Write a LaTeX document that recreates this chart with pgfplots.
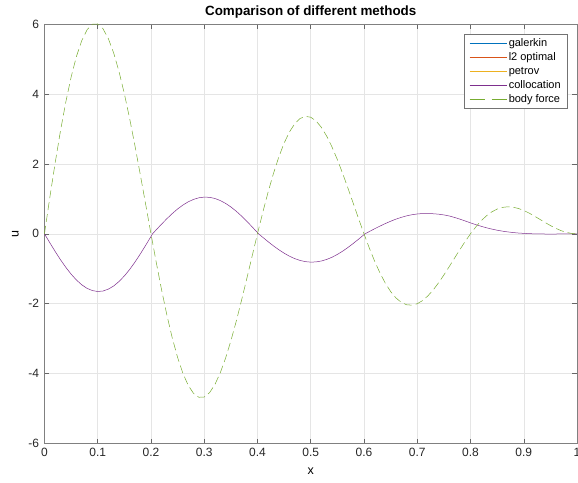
\documentclass[border=0pt]{standalone}
\usepackage{fontspec}
\setmainfont{Liberation Sans}
\usepackage{pgfplots}
\pgfplotsset{compat=1.18}
\definecolor{mblue}{rgb}{0,0.447,0.741}
\definecolor{morange}{rgb}{0.850,0.325,0.098}
\definecolor{myellow}{rgb}{0.929,0.694,0.125}
\definecolor{mpurple}{rgb}{0.494,0.184,0.556}
\definecolor{mgreen}{rgb}{0.466,0.674,0.188}
\begin{document}
\begin{tikzpicture}
\pgfplotstableread{
x u
0.00 0
0.01 -0.254
0.02 -0.503
0.03 -0.739
0.04 -0.957
0.05 -1.153
0.06 -1.321
0.07 -1.458
0.08 -1.560
0.09 -1.624
0.10 -1.650
0.11 -1.636
0.12 -1.582
0.13 -1.492
0.14 -1.364
0.15 -1.206
0.16 -1.020
0.17 -0.808
0.18 -0.576
0.19 -0.330
0.20 -0.077
0.203 0
0.21 0.116
0.22 0.278
0.23 0.434
0.24 0.579
0.25 0.710
0.26 0.822
0.27 0.915
0.28 0.984
0.29 1.030
0.30 1.049
0.31 1.043
0.32 1.010
0.33 0.952
0.34 0.870
0.35 0.768
0.36 0.647
0.37 0.509
0.38 0.358
0.39 0.198
0.40 0.033
0.402 0
0.41 -0.101
0.42 -0.226
0.43 -0.345
0.44 -0.455
0.45 -0.554
0.46 -0.640
0.47 -0.710
0.48 -0.762
0.49 -0.796
0.50 -0.810
0.51 -0.804
0.52 -0.778
0.53 -0.733
0.54 -0.670
0.55 -0.590
0.56 -0.496
0.57 -0.390
0.58 -0.274
0.59 -0.152
0.60 -0.025
0.602 0
0.61 0.064
0.62 0.144
0.63 0.220
0.64 0.292
0.65 0.359
0.66 0.419
0.67 0.470
0.68 0.513
0.69 0.545
0.70 0.567
0.71 0.579
0.715 0.580
0.72 0.579
0.73 0.573
0.74 0.561
0.75 0.540
0.76 0.510
0.77 0.468
0.78 0.420
0.79 0.367
0.80 0.312
0.81 0.262
0.82 0.215
0.83 0.172
0.84 0.135
0.85 0.103
0.86 0.076
0.87 0.054
0.88 0.036
0.89 0.022
0.90 0.012
0.91 0.004
0.92 -0.001
0.93 -0.004
0.94 -0.006
0.95 -0.007
0.96 -0.006
0.97 -0.005
0.98 -0.003
0.99 -0.001
1.00 0
}\usol
\pgfplotstableread{
x f
0.00 0
0.01 1.032
0.02 2.019
0.03 2.936
0.04 3.762
0.05 4.478
0.06 5.070
0.07 5.524
0.08 5.833
0.09 5.992
0.10 6.000
0.11 5.860
0.12 5.580
0.13 5.168
0.14 4.638
0.15 4.007
0.16 3.292
0.17 2.512
0.18 1.689
0.19 0.845
0.20 0
0.21 -0.824
0.22 -1.607
0.23 -2.331
0.24 -2.978
0.25 -3.536
0.26 -3.991
0.27 -4.336
0.28 -4.565
0.29 -4.675
0.30 -4.667
0.31 -4.543
0.32 -4.312
0.33 -3.980
0.34 -3.560
0.35 -3.064
0.36 -2.508
0.37 -1.907
0.38 -1.277
0.39 -0.636
0.40 0
0.41 0.615
0.42 1.195
0.43 1.725
0.44 2.194
0.45 2.593
0.46 2.912
0.47 3.148
0.48 3.297
0.49 3.358
0.50 3.333
0.51 3.227
0.52 3.044
0.53 2.792
0.54 2.481
0.55 2.121
0.56 1.724
0.57 1.301
0.58 0.865
0.59 0.427
0.60 0
0.61 -0.407
0.62 -0.783
0.63 -1.120
0.64 -1.411
0.65 -1.650
0.66 -1.834
0.67 -1.960
0.68 -2.029
0.69 -2.041
0.70 -2.000
0.71 -1.910
0.72 -1.775
0.73 -1.604
0.74 -1.402
0.75 -1.179
0.76 -0.940
0.77 -0.696
0.78 -0.453
0.79 -0.219
0.80 0
0.81 0.198
0.82 0.371
0.83 0.515
0.84 0.627
0.85 0.707
0.86 0.755
0.87 0.772
0.88 0.761
0.89 0.724
0.90 0.667
0.91 0.593
0.92 0.507
0.93 0.416
0.94 0.324
0.95 0.236
0.96 0.157
0.97 0.091
0.98 0.041
0.99 0.010
1.00 0
}\fbody
\begin{axis}[
  scale only axis, width=533pt, height=420pt,
  xmin=0, xmax=1, ymin=-6, ymax=6,
  xtick={0,0.1,0.2,0.3,0.4,0.5,0.6,0.7,0.8,0.9,1},
  ytick={-6,-4,-2,0,2,4,6},
  /pgf/number format/assume math mode=true,
  ticklabel style={font=\fontsize{12}{14}\selectfont, text=black!85},
  xticklabel style={yshift=-1pt},
  yticklabel style={xshift=-2pt},
  grid=major,
  grid style={color=black!10, line width=0.5pt},
  axis line style={color=black!50, line width=0.6pt},
  tick style={color=black!60, line width=0.5pt},
  tick align=inside, major tick length=5pt,
  title={\textbf{Comparison of different methods}},
  every axis title/.style={at={(axis description cs:0.5,1.029)}, anchor=center,
    font=\fontsize{13.4}{15}\selectfont},
  xlabel={x}, ylabel={u},
  every axis x label/.style={at={(axis description cs:0.5,-0.0667)}, anchor=center,
    font=\fontsize{12.5}{14}\selectfont},
  every axis y label/.style={at={(axis description cs:-0.0544,0.5)}, anchor=center, rotate=90,
    font=\fontsize{12.5}{14}\selectfont},
  legend style={at={(0.983,0.976)}, anchor=north east, draw=black!55, line width=0.5pt,
    font=\fontsize{11}{13}\selectfont, cells={anchor=west}, row sep=0.9pt,
    inner xsep=5pt, inner ysep=2pt},
  legend image code/.code={\draw[#1] (0pt,0pt) -- (37pt,0pt);},
  every axis plot/.append style={line width=0.5pt},
]
\addplot[mblue, no marks, draw opacity=0, legend image post style={draw opacity=1}] table[x=x,y=u]{\usol};
\addlegendentry{galerkin}
\addplot[morange, no marks, draw opacity=0, legend image post style={draw opacity=1}] table[x=x,y=u]{\usol};
\addlegendentry{l2 optimal}
\addplot[myellow, no marks, draw opacity=0, legend image post style={draw opacity=1}] table[x=x,y=u]{\usol};
\addlegendentry{petrov}
\addplot[mpurple, no marks] table[x=x,y=u]{\usol};
\addlegendentry{collocation}
\addplot[mgreen, no marks, dash pattern=on 8pt off 4pt,
  legend image post style={dash pattern=on 15pt off 7pt}]
  table[x=x,y=f]{\fbody};
\addlegendentry{body force}
\end{axis}
\pgfresetboundingbox
\useasboundingbox ([shift={(-44.5pt,-39pt)}]current axis.south west) rectangle ([shift={(1pt,24pt)}]current axis.north east);
\end{tikzpicture}
\end{document}
